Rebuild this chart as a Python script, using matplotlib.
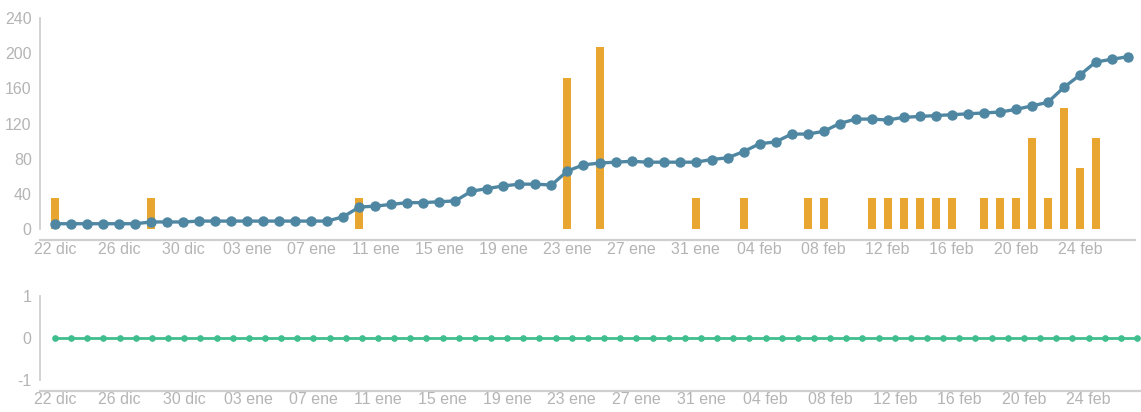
import matplotlib.pyplot as plt
import pandas as pd

# Fechas diarias (22 dic -> 27 feb)
start_date = "2020-12-22"
end_date = "2021-02-27"
meses = {12: "dic", 1: "ene", 2: "feb"}

# Serie acumulada (línea azul)
acumulado = [
    6, 6, 6, 6, 6, 6, 8, 8, 8, 9, 9,
    9, 9, 9, 9, 9, 9, 9, 14, 25, 26, 28,
    30, 30, 31, 32, 43, 46, 49, 51, 51, 50,
    66, 73, 75, 76, 77, 76, 76, 76, 76, 79,
    81, 88, 97, 99, 108, 108, 111, 120, 125, 125,
    124, 127, 128, 129, 130, 131, 132, 133, 136, 140,
    144, 161, 175, 190, 193, 196,
]

# Barras (naranja)
barras_fechas = [
    "2020-12-22", "2020-12-28", "2021-01-10", "2021-01-23", "2021-01-25",
    "2021-01-31", "2021-02-03", "2021-02-07", "2021-02-08", "2021-02-11",
    "2021-02-12", "2021-02-13", "2021-02-14", "2021-02-15", "2021-02-16",
    "2021-02-18", "2021-02-19", "2021-02-20", "2021-02-21", "2021-02-22",
    "2021-02-23", "2021-02-24", "2021-02-25",
]
barras_valores = [
    35, 35, 35, 172, 207,
    35, 35, 35, 35, 35,
    35, 35, 35, 35, 35,
    35, 35, 35, 104, 35,
    138, 69, 104,
]

# Serie inferior (línea verde)
inferior = [
    0, 0, 0, 0, 0, 0, 0, 0, 0, 0, 0, 0, 0, 0, 0, 0, 0,
    0, 0, 0, 0, 0, 0, 0, 0, 0, 0, 0, 0, 0, 0, 0, 0, 0,
    0, 0, 0, 0, 0, 0, 0, 0, 0, 0, 0, 0, 0, 0, 0, 0, 0,
    0, 0, 0, 0, 0, 0, 0, 0, 0, 0, 0, 0, 0, 0, 0, 0, 0,
]

fechas = pd.date_range(start_date, end_date, freq="D")
x = list(range(len(fechas)))
etiquetas = [f"{d.day:02d} {meses[d.month]}" for d in fechas]
idx = {d.strftime("%Y-%m-%d"): i for i, d in enumerate(fechas)}
bar_x = [idx[f] for f in barras_fechas]

gris_txt = "#b4b4b4"
gris_eje = "#cfcfcf"
plt.rcParams["font.family"] = ["Liberation Sans", "DejaVu Sans"]
plt.rcParams["axes.unicode_minus"] = False

fig = plt.figure(figsize=(11.41, 4.12), dpi=100)
ax1 = fig.add_axes([40 / 1141, 1 - 229 / 412, 1095 / 1141, 211 / 412])
ax2 = fig.add_axes([40 / 1141, 1 - 380 / 412, 1101 / 1141, 84 / 412])

# Panel superior
ax1.bar(bar_x, barras_valores, width=0.5, color="#e8a631", zorder=2)
ax1.plot(x, acumulado, color="#4f87a2", lw=2.4, marker="o", ms=6.5, zorder=3)
ax1.set_ylim(0, 240)
ax1.set_yticks([0, 40, 80, 120, 160, 200, 240])
ax1.set_xlim(-0.95, 67.45)

# Panel inferior
ax2.plot(x, inferior, color="#3fbf8d", lw=2, marker="o", ms=3.8, zorder=3)
ax2.set_ylim(-1, 1)
ax2.set_yticks([-1, 0, 1])
ax2.set_xlim(-0.93, 67.25)

for ax in (ax1, ax2):
    ax.set_xticks(x[::4])
    ax.set_xticklabels(etiquetas[::4])
    for s in ("top", "right"):
        ax.spines[s].set_visible(False)
    ax.spines["left"].set_color(gris_eje)
    ax.spines["bottom"].set_color(gris_eje)
    ax.spines["left"].set_linewidth(1.3)
    ax.spines["bottom"].set_linewidth(1.6)
    ax.spines["bottom"].set_position(("outward", 8))
    ax.tick_params(length=0, labelsize=11.5, colors=gris_txt, pad=1)
    ax.tick_params(axis="y", pad=6)

fig.savefig("out.png", dpi=100)
